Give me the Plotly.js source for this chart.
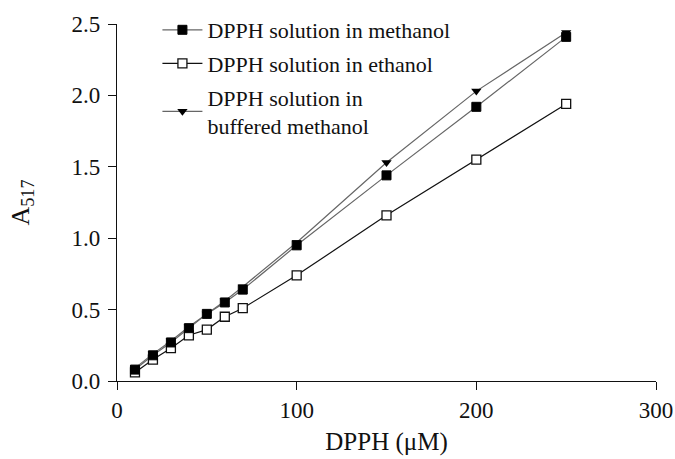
<!DOCTYPE html>
<html>
<head>
<meta charset="utf-8">
<script src="https://cdn.plot.ly/plotly-3.0.1.min.js"></script>
<style>html,body{margin:0;padding:0;background:#fff;}#chart{width:675px;height:459px;}</style>
</head>
<body>
<div id="chart"></div>
<script>
const dpph = [10, 20, 30, 40, 50, 60, 70, 100, 150, 200, 250];
const methanol = [0.08, 0.18, 0.27, 0.37, 0.47, 0.55, 0.64, 0.95, 1.44, 1.92, 2.41];
const ethanol = [0.06, 0.15, 0.23, 0.32, 0.36, 0.45, 0.51, 0.74, 1.16, 1.55, 1.94];
const buffered = [0.09, 0.19, 0.28, 0.38, 0.47, 0.56, 0.66, 0.97, 1.53, 2.03, 2.44];
const seriesNames = ["DPPH solution in methanol", "DPPH solution in ethanol", "DPPH solution in<br>buffered methanol"];
const xTicks = [0, 100, 200, 300];
const yTicks = [0, 0.5, 1.0, 1.5, 2.0, 2.5];

const fam = '"Liberation Serif", "Times New Roman", serif';
const tickFont = {family: fam, size: 23, color: "#111"};
const legendFont = {family: fam, size: 22, color: "#111"};

const traces = [
  {x: dpph, y: ethanol, name: seriesNames[1], mode: "lines+markers", legendgroup: "b", legendrank: 2,
   line: {color: "#111", width: 1.2},
   marker: {symbol: "square", size: 9, color: "#fff", line: {color: "#111", width: 1.3}}},
  {x: dpph, y: buffered, name: seriesNames[2], mode: "lines+markers", legendgroup: "c", legendrank: 3,
   line: {color: "#666", width: 1.2},
   marker: {symbol: "triangle-down", size: 9, color: "#000", line: {width: 0}}},
  {x: dpph, y: methanol, name: seriesNames[0], mode: "lines+markers", legendgroup: "a", legendrank: 1,
   line: {color: "#666", width: 1.2},
   marker: {symbol: "square", size: 9, color: "#000", line: {color: "#000", width: 1}}}
];

const layout = {
  width: 675, height: 459,
  margin: {l: 117, r: 19, t: 24, b: 78, autoexpand: false},
  paper_bgcolor: "#fff", plot_bgcolor: "#fff",
  font: tickFont,
  showlegend: true,
  legend: {x: 0.075, y: 1.042, xanchor: "left", yanchor: "top", bgcolor: "rgba(0,0,0,0)",
           traceorder: "grouped", tracegroupgap: 2, font: legendFont, itemwidth: 40},
  xaxis: {range: [0, 300], tickvals: xTicks, ticks: "outside", ticklen: 8, tickcolor: "#111",
          showline: true, linecolor: "#111", linewidth: 1.2, showgrid: false, zeroline: false,
          tickfont: tickFont, title: {text: "DPPH (μM)", font: {family: fam, size: 25, color: "#111"}, standoff: 10}},
  yaxis: {range: [0, 2.5], tickvals: yTicks, tickformat: ".1f", ticks: "outside", ticklen: 8, tickcolor: "#111",
          ticklabelstandoff: 3,
          showline: true, linecolor: "#111", linewidth: 1.2, showgrid: false, zeroline: false,
          tickfont: tickFont, title: {text: "A<sub>517</sub>", font: {family: fam, size: 26, color: "#111"}, standoff: 34}}
};

Plotly.newPlot("chart", traces, layout, {displayModeBar: false, staticPlot: true});
</script>
</body>
</html>
